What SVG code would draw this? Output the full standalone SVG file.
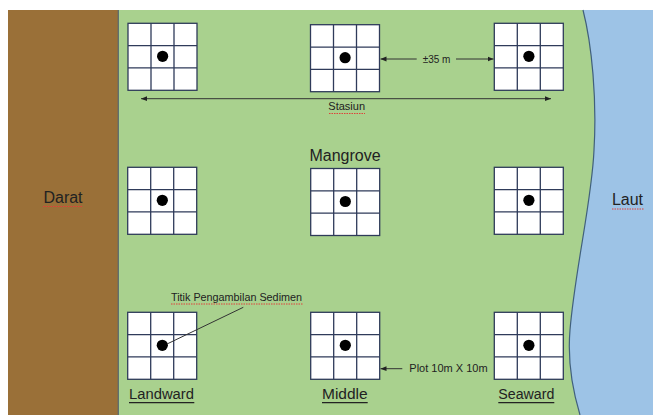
<svg xmlns="http://www.w3.org/2000/svg" xmlns:xlink="http://www.w3.org/1999/xlink" width="653" height="415" viewBox="0 0 653 415">
<style>
.lbl{font-family:"Liberation Sans",Arial,sans-serif;fill:#222}
.big{font-size:16px}
.sm{font-size:10.8px}
.zone{font-size:14px}
.cell{fill:#fff;stroke:#2f3b5a;stroke-width:1.3}
.grid{fill:none;stroke:#2f3b5a;stroke-width:1.3}
.conn{fill:none;stroke:#333;stroke-width:1}
.ul{stroke:#222;stroke-width:1.1}
.spell{stroke:#e0403a;stroke-width:1;stroke-dasharray:1.5 1}
</style>
<defs>
<marker id="ah" viewBox="0 0 10 10" refX="10" refY="5" markerWidth="6" markerHeight="6" orient="auto-start-reverse" markerUnits="userSpaceOnUse">
<path d="M0 1L10 5L0 9Z" fill="#222"/>
</marker>
<g id="plot">
<rect class="cell" width="69" height="67"/>
<path class="grid" d="M23 0V67M46 0V67M0 22.33H69M0 44.67H69"/>
<circle cx="34.6" cy="33" r="5.6" fill="#000"/>
</g>
</defs>
<rect width="653" height="415" fill="#fff"/>
<g id="darat">
<rect x="8" y="10" width="110" height="405" fill="#9a7038"/>
<text class="lbl big" x="63" y="203" text-anchor="middle">Darat</text>
<line class="spell" x1="43" y1="206.5" x2="83" y2="206.5"/>
</g>
<g id="mangrove">
<rect x="118" y="10" width="480" height="405" fill="#a9d18e"/>
<line x1="118.3" y1="10" x2="118.3" y2="415" stroke="#56656d" stroke-width="1.2"/>
<text class="lbl big" x="345" y="160.7" text-anchor="middle">Mangrove</text>
</g>
<g id="laut">
<path d="M583 10C592 45 597 100 594 150C592 200 575 270 570 330C567 365 574 395 580 415L653 415L653 10Z" fill="#9dc3e6"/>
<path d="M583 10C592 45 597 100 594 150C592 200 575 270 570 330C567 365 574 395 580 415" fill="none" stroke="#41607c" stroke-width="1.2"/>
<text class="lbl big" x="627.5" y="205" text-anchor="middle">Laut</text>
<line class="spell" x1="612" y1="209" x2="644" y2="209"/>
</g>
<g id="plot-top-left"><use xlink:href="#plot" x="128" y="23.3"/></g>
<g id="plot-top-middle"><use xlink:href="#plot" x="310.5" y="24.7"/></g>
<g id="plot-top-right"><use xlink:href="#plot" x="494.3" y="23.3"/></g>
<g id="plot-mid-left"><use xlink:href="#plot" x="127.7" y="167.3"/></g>
<g id="plot-mid-middle"><use xlink:href="#plot" x="310.7" y="168.5"/></g>
<g id="plot-mid-right"><use xlink:href="#plot" x="494.3" y="167.3"/></g>
<g id="plot-bot-left"><use xlink:href="#plot" x="127.7" y="312.3"/></g>
<g id="plot-bot-middle"><use xlink:href="#plot" x="310.7" y="312.3"/></g>
<g id="plot-bot-right"><use xlink:href="#plot" x="494.3" y="312.3"/></g>
<g id="connectors">
<line class="conn" x1="141" y1="98.7" x2="551" y2="98.7" marker-start="url(#ah)" marker-end="url(#ah)"/>
<line class="conn" x1="416.7" y1="59" x2="380.5" y2="59" marker-end="url(#ah)"/>
<line class="conn" x1="456" y1="59" x2="493.5" y2="59" marker-end="url(#ah)"/>
<line class="conn" x1="402.3" y1="368.7" x2="380.5" y2="368.7" marker-end="url(#ah)"/>
<line class="conn" x1="243.3" y1="307.3" x2="167" y2="344"/>
</g>
<g id="labels">
<text class="lbl" font-size="11" x="346.7" y="110" text-anchor="middle">Stasiun</text>
<line class="spell" x1="329" y1="113.5" x2="365" y2="113.5"/>
<text class="lbl" font-size="10" x="422.7" y="62.5">±35 m</text>
<text class="lbl sm" x="171" y="300.7">Titik Pengambilan Sedimen</text>
<line class="spell" x1="171" y1="304" x2="303" y2="304"/>
<text class="lbl" font-size="11" x="409.3" y="372.3">Plot 10m X 10m</text>
<text class="lbl zone" x="129" y="399" textLength="65" lengthAdjust="spacingAndGlyphs">Landward</text>
<line class="ul" x1="129" y1="402.6" x2="194.3" y2="402.6"/>
<text class="lbl zone" x="322" y="399" textLength="45.7" lengthAdjust="spacingAndGlyphs">Middle</text>
<line class="ul" x1="322" y1="402.6" x2="367.7" y2="402.6"/>
<text class="lbl zone" x="498.3" y="399" textLength="56" lengthAdjust="spacingAndGlyphs">Seaward</text>
<line class="ul" x1="498.3" y1="402.6" x2="554.3" y2="402.6"/>
</g>
</svg>
